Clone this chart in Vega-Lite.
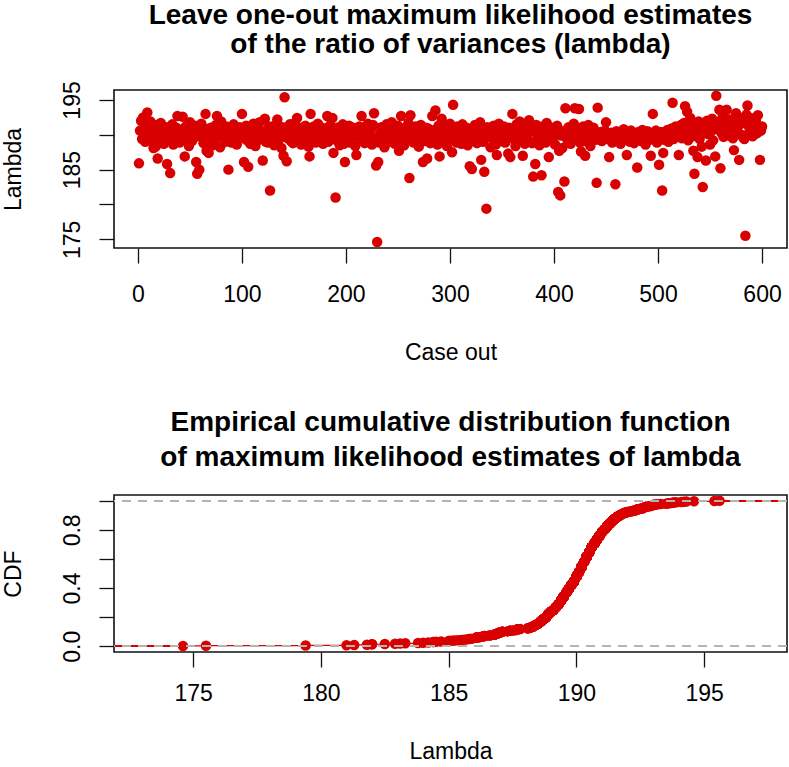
{
"$schema": "https://vega.github.io/schema/vega-lite/v6.json",
"padding": {"left": 1, "top": 0, "right": 3, "bottom": 0},
"spacing": 43,
"config": {
  "font": "Liberation Sans",
  "view": {"stroke": "#111", "strokeWidth": 1.6},
  "axis": {"grid": false, "domain": false, "tickColor": "#111", "tickSize": 15, "tickWidth": 1.3, "labelFontSize": 23, "titleFontSize": 23, "titleFontWeight": "normal", "labelColor": "#000", "titleColor": "#000", "labelFont": "Liberation Sans", "titleFont": "Liberation Sans", "labelPadding": 20},
  "title": {"fontSize": 28, "font": "Liberation Sans", "fontWeight": "bold", "color": "#000", "anchor": "middle"}
},
"datasets": {
"lam": [
{"i":1,"v":185.9},{"i":2,"v":190.6},{"i":3,"v":192.0},{"i":4,"v":189.4},{"i":5,"v":192.5},{"i":6,"v":190.2},{"i":7,"v":189.0},{"i":8,"v":191.3},{"i":9,"v":193.2},{"i":10,"v":190.8},
{"i":11,"v":189.6},{"i":12,"v":191.9},{"i":13,"v":190.4},{"i":14,"v":188.9},{"i":15,"v":188.1},{"i":16,"v":190.9},{"i":17,"v":188.3},{"i":18,"v":191.4},{"i":19,"v":186.6},{"i":20,"v":190.0},
{"i":21,"v":189.3},{"i":22,"v":191.7},{"i":23,"v":190.5},{"i":24,"v":189.8},{"i":25,"v":188.7},{"i":26,"v":190.3},{"i":27,"v":191.1},{"i":28,"v":185.8},{"i":29,"v":189.5},{"i":30,"v":190.7},
{"i":31,"v":184.5},{"i":32,"v":189.9},{"i":33,"v":191.5},{"i":34,"v":188.6},{"i":35,"v":190.2},{"i":36,"v":189.2},{"i":37,"v":191.0},{"i":38,"v":192.7},{"i":39,"v":190.1},{"i":40,"v":188.9},
{"i":41,"v":190.6},{"i":42,"v":189.7},{"i":43,"v":192.6},{"i":44,"v":190.4},{"i":45,"v":186.9},{"i":46,"v":191.2},{"i":47,"v":189.4},{"i":48,"v":190.0},{"i":49,"v":188.4},{"i":50,"v":191.8},
{"i":51,"v":190.3},{"i":52,"v":189.1},{"i":53,"v":190.8},{"i":54,"v":189.6},{"i":55,"v":191.3},{"i":56,"v":186.1},{"i":57,"v":184.4},{"i":58,"v":190.5},{"i":59,"v":185.0},{"i":60,"v":189.8},
{"i":61,"v":191.6},{"i":62,"v":190.2},{"i":63,"v":188.8},{"i":64,"v":190.9},{"i":65,"v":193.0},{"i":66,"v":187.7},{"i":67,"v":190.4},{"i":68,"v":187.4},{"i":69,"v":189.5},{"i":70,"v":191.0},
{"i":71,"v":190.1},{"i":72,"v":188.5},{"i":73,"v":190.7},{"i":74,"v":189.3},{"i":75,"v":191.4},{"i":76,"v":192.7},{"i":77,"v":189.9},{"i":78,"v":190.3},{"i":79,"v":188.2},{"i":80,"v":191.9},
{"i":81,"v":190.0},{"i":82,"v":189.6},{"i":83,"v":190.6},{"i":84,"v":189.0},{"i":85,"v":191.2},{"i":86,"v":190.4},{"i":87,"v":185.0},{"i":88,"v":189.7},{"i":89,"v":190.9},{"i":90,"v":188.9},
{"i":91,"v":190.2},{"i":92,"v":191.5},{"i":93,"v":189.4},{"i":94,"v":190.5},{"i":95,"v":188.6},{"i":96,"v":190.8},{"i":97,"v":189.8},{"i":98,"v":191.1},{"i":99,"v":190.3},{"i":100,"v":193.0},
{"i":101,"v":189.5},{"i":102,"v":186.1},{"i":103,"v":190.6},{"i":104,"v":191.3},{"i":105,"v":189.2},{"i":106,"v":185.4},{"i":107,"v":190.1},{"i":108,"v":188.7},{"i":109,"v":190.9},{"i":110,"v":189.9},
{"i":111,"v":191.6},{"i":112,"v":190.4},{"i":113,"v":188.4},{"i":114,"v":190.0},{"i":115,"v":191.0},{"i":116,"v":189.3},{"i":117,"v":191.8},{"i":118,"v":190.5},{"i":119,"v":189.7},{"i":120,"v":186.3},
{"i":121,"v":190.2},{"i":122,"v":192.3},{"i":123,"v":189.0},{"i":124,"v":190.7},{"i":125,"v":188.9},{"i":126,"v":191.2},{"i":127,"v":182.0},{"i":128,"v":190.3},{"i":129,"v":189.6},{"i":130,"v":190.8},
{"i":131,"v":188.5},{"i":132,"v":191.4},{"i":133,"v":189.8},{"i":134,"v":192.2},{"i":135,"v":190.1},{"i":136,"v":189.4},{"i":137,"v":190.6},{"i":138,"v":188.1},{"i":139,"v":191.1},{"i":140,"v":187.0},
{"i":141,"v":195.4},{"i":142,"v":190.0},{"i":143,"v":186.2},{"i":144,"v":189.5},{"i":145,"v":190.9},{"i":146,"v":191.5},{"i":147,"v":189.1},{"i":148,"v":190.4},{"i":149,"v":188.8},{"i":150,"v":190.2},
{"i":151,"v":191.7},{"i":152,"v":189.7},{"i":153,"v":192.4},{"i":154,"v":190.5},{"i":155,"v":189.2},{"i":156,"v":190.8},{"i":157,"v":188.6},{"i":158,"v":191.0},{"i":159,"v":189.9},{"i":160,"v":190.3},
{"i":161,"v":191.3},{"i":162,"v":189.4},{"i":163,"v":190.7},{"i":164,"v":188.3},{"i":165,"v":186.9},{"i":166,"v":193.0},{"i":167,"v":190.1},{"i":168,"v":189.6},{"i":169,"v":191.2},{"i":170,"v":190.4},
{"i":171,"v":188.9},{"i":172,"v":190.0},{"i":173,"v":191.6},{"i":174,"v":189.3},{"i":175,"v":190.6},{"i":176,"v":189.8},{"i":177,"v":191.0},{"i":178,"v":188.7},{"i":179,"v":190.2},{"i":180,"v":189.5},
{"i":181,"v":190.9},{"i":182,"v":192.7},{"i":183,"v":189.0},{"i":184,"v":190.5},{"i":185,"v":191.4},{"i":186,"v":189.7},{"i":187,"v":192.4},{"i":188,"v":187.4},{"i":189,"v":190.3},{"i":190,"v":181.0},
{"i":191,"v":189.2},{"i":192,"v":190.8},{"i":193,"v":191.1},{"i":194,"v":188.5},{"i":195,"v":190.0},{"i":196,"v":189.9},{"i":197,"v":191.5},{"i":198,"v":188.7},{"i":199,"v":186.1},{"i":200,"v":190.4},
{"i":201,"v":189.4},{"i":202,"v":190.7},{"i":203,"v":191.3},{"i":204,"v":188.9},{"i":205,"v":190.1},{"i":206,"v":189.6},{"i":207,"v":191.0},{"i":208,"v":190.4},{"i":209,"v":188.4},{"i":210,"v":187.1},
{"i":211,"v":190.6},{"i":212,"v":189.8},{"i":213,"v":191.2},{"i":214,"v":190.2},{"i":215,"v":192.7},{"i":216,"v":189.3},{"i":217,"v":190.9},{"i":218,"v":188.8},{"i":219,"v":190.5},{"i":220,"v":189.7},
{"i":221,"v":191.6},{"i":222,"v":190.0},{"i":223,"v":189.1},{"i":224,"v":190.8},{"i":225,"v":188.6},{"i":226,"v":191.4},{"i":227,"v":193.1},{"i":228,"v":189.5},{"i":229,"v":185.6},{"i":230,"v":174.6},
{"i":231,"v":186.1},{"i":232,"v":188.9},{"i":233,"v":190.3},{"i":234,"v":191.1},{"i":235,"v":189.9},{"i":236,"v":190.6},{"i":237,"v":188.2},{"i":238,"v":190.0},{"i":239,"v":191.5},{"i":240,"v":189.4},
{"i":241,"v":190.2},{"i":242,"v":189.0},{"i":243,"v":190.9},{"i":244,"v":191.8},{"i":245,"v":189.6},{"i":246,"v":190.4},{"i":247,"v":188.7},{"i":248,"v":190.7},{"i":249,"v":189.2},{"i":250,"v":191.3},
{"i":251,"v":187.7},{"i":252,"v":190.1},{"i":253,"v":192.7},{"i":254,"v":189.8},{"i":255,"v":190.5},{"i":256,"v":188.5},{"i":257,"v":191.0},{"i":258,"v":189.5},{"i":259,"v":190.3},{"i":260,"v":191.7},
{"i":261,"v":183.8},{"i":262,"v":192.8},{"i":263,"v":189.9},{"i":264,"v":190.8},{"i":265,"v":188.9},{"i":266,"v":190.2},{"i":267,"v":191.2},{"i":268,"v":189.3},{"i":269,"v":190.6},{"i":270,"v":188.3},
{"i":271,"v":190.0},{"i":272,"v":191.4},{"i":273,"v":189.7},{"i":274,"v":186.1},{"i":275,"v":190.4},{"i":276,"v":189.1},{"i":277,"v":191.0},{"i":278,"v":186.6},{"i":279,"v":190.9},{"i":280,"v":189.6},
{"i":281,"v":188.8},{"i":282,"v":190.3},{"i":283,"v":192.7},{"i":284,"v":189.4},{"i":285,"v":190.7},{"i":286,"v":193.5},{"i":287,"v":190.1},{"i":288,"v":188.6},{"i":289,"v":191.3},{"i":290,"v":186.9},
{"i":291,"v":189.8},{"i":292,"v":192.3},{"i":293,"v":190.5},{"i":294,"v":189.2},{"i":295,"v":191.1},{"i":296,"v":190.0},{"i":297,"v":188.4},{"i":298,"v":190.8},{"i":299,"v":189.5},{"i":300,"v":191.6},
{"i":301,"v":190.2},{"i":302,"v":187.5},{"i":303,"v":194.3},{"i":304,"v":189.7},{"i":305,"v":190.6},{"i":306,"v":188.9},{"i":307,"v":191.2},{"i":308,"v":190.4},{"i":309,"v":189.3},{"i":310,"v":190.9},
{"i":311,"v":188.7},{"i":312,"v":191.5},{"i":313,"v":190.1},{"i":314,"v":189.6},{"i":315,"v":190.3},{"i":316,"v":191.0},{"i":317,"v":188.5},{"i":318,"v":190.7},{"i":319,"v":185.5},{"i":320,"v":189.9},
{"i":321,"v":185.1},{"i":322,"v":190.5},{"i":323,"v":189.2},{"i":324,"v":191.4},{"i":325,"v":190.0},{"i":326,"v":188.8},{"i":327,"v":190.8},{"i":328,"v":189.4},{"i":329,"v":191.8},{"i":330,"v":186.4},
{"i":331,"v":190.2},{"i":332,"v":189.0},{"i":333,"v":184.7},{"i":334,"v":190.6},{"i":335,"v":179.4},{"i":336,"v":191.1},{"i":337,"v":189.7},{"i":338,"v":190.4},{"i":339,"v":188.2},{"i":340,"v":190.9},
{"i":341,"v":189.5},{"i":342,"v":191.3},{"i":343,"v":190.1},{"i":344,"v":188.6},{"i":345,"v":187.1},{"i":346,"v":190.3},{"i":347,"v":191.6},{"i":348,"v":189.8},{"i":349,"v":190.7},{"i":350,"v":189.1},
{"i":351,"v":190.0},{"i":352,"v":191.2},{"i":353,"v":188.9},{"i":354,"v":190.5},{"i":355,"v":189.6},{"i":356,"v":187.3},{"i":357,"v":191.0},{"i":358,"v":186.8},{"i":359,"v":190.2},{"i":360,"v":193.0},
{"i":361,"v":189.4},{"i":362,"v":190.8},{"i":363,"v":188.4},{"i":364,"v":191.5},{"i":365,"v":189.9},{"i":366,"v":190.4},{"i":367,"v":191.9},{"i":368,"v":189.2},{"i":369,"v":190.6},{"i":370,"v":187.0},
{"i":371,"v":190.1},{"i":372,"v":188.7},{"i":373,"v":191.1},{"i":374,"v":189.7},{"i":375,"v":190.3},{"i":376,"v":192.1},{"i":377,"v":189.0},{"i":378,"v":190.9},{"i":379,"v":188.8},{"i":380,"v":184.0},
{"i":381,"v":190.5},{"i":382,"v":185.8},{"i":383,"v":191.4},{"i":384,"v":189.5},{"i":385,"v":190.0},{"i":386,"v":188.5},{"i":387,"v":190.7},{"i":388,"v":184.2},{"i":389,"v":191.2},{"i":390,"v":189.8},
{"i":391,"v":190.2},{"i":392,"v":188.9},{"i":393,"v":191.7},{"i":394,"v":190.4},{"i":395,"v":186.8},{"i":396,"v":189.3},{"i":397,"v":190.8},{"i":398,"v":191.0},{"i":399,"v":189.6},{"i":400,"v":190.1},
{"i":401,"v":188.6},{"i":402,"v":190.6},{"i":403,"v":191.3},{"i":404,"v":181.8},{"i":405,"v":187.7},{"i":406,"v":181.3},{"i":407,"v":189.9},{"i":408,"v":188.1},{"i":409,"v":190.5},{"i":410,"v":183.3},
{"i":411,"v":193.8},{"i":412,"v":190.3},{"i":413,"v":189.2},{"i":414,"v":191.1},{"i":415,"v":190.0},{"i":416,"v":188.7},{"i":417,"v":190.8},{"i":418,"v":189.4},{"i":419,"v":191.6},{"i":420,"v":193.8},
{"i":421,"v":190.2},{"i":422,"v":189.7},{"i":423,"v":190.9},{"i":424,"v":193.7},{"i":425,"v":188.9},{"i":426,"v":187.6},{"i":427,"v":190.4},{"i":428,"v":191.2},{"i":429,"v":189.5},{"i":430,"v":187.0},
{"i":431,"v":190.7},{"i":432,"v":189.0},{"i":433,"v":191.4},{"i":434,"v":190.1},{"i":435,"v":188.4},{"i":436,"v":190.5},{"i":437,"v":189.8},{"i":438,"v":191.0},{"i":439,"v":190.3},{"i":440,"v":189.3},
{"i":441,"v":183.1},{"i":442,"v":193.9},{"i":443,"v":190.0},{"i":444,"v":189.6},{"i":445,"v":190.4},{"i":446,"v":189.1},{"i":447,"v":190.2},{"i":448,"v":189.8},{"i":449,"v":190.6},{"i":450,"v":191.8},
{"i":451,"v":189.4},{"i":452,"v":190.1},{"i":453,"v":186.8},{"i":454,"v":189.7},{"i":455,"v":190.3},{"i":456,"v":188.9},{"i":457,"v":190.0},{"i":458,"v":189.5},{"i":459,"v":182.9},{"i":460,"v":190.5},
{"i":461,"v":189.2},{"i":462,"v":190.2},{"i":463,"v":189.9},{"i":464,"v":188.7},{"i":465,"v":190.4},{"i":466,"v":189.6},{"i":467,"v":190.8},{"i":468,"v":189.3},{"i":469,"v":190.1},{"i":470,"v":187.1},
{"i":471,"v":189.8},{"i":472,"v":190.3},{"i":473,"v":189.0},{"i":474,"v":190.6},{"i":475,"v":189.5},{"i":476,"v":190.0},{"i":477,"v":188.8},{"i":478,"v":190.2},{"i":479,"v":189.7},{"i":480,"v":185.3},
{"i":481,"v":190.4},{"i":482,"v":189.4},{"i":483,"v":190.1},{"i":484,"v":189.1},{"i":485,"v":190.7},{"i":486,"v":189.6},{"i":487,"v":190.3},{"i":488,"v":188.6},{"i":489,"v":189.9},{"i":490,"v":190.5},
{"i":491,"v":189.2},{"i":492,"v":190.0},{"i":493,"v":187.0},{"i":494,"v":189.8},{"i":495,"v":193.0},{"i":496,"v":190.2},{"i":497,"v":189.5},{"i":498,"v":190.6},{"i":499,"v":188.9},{"i":500,"v":190.1},
{"i":501,"v":185.7},{"i":502,"v":189.7},{"i":503,"v":190.4},{"i":504,"v":182.0},{"i":505,"v":187.4},{"i":506,"v":189.3},{"i":507,"v":190.2},{"i":508,"v":189.8},{"i":509,"v":190.7},{"i":510,"v":189.0},
{"i":511,"v":190.5},{"i":512,"v":189.6},{"i":513,"v":190.9},{"i":514,"v":194.6},{"i":515,"v":189.4},{"i":516,"v":190.3},{"i":517,"v":191.2},{"i":518,"v":189.9},{"i":519,"v":190.6},{"i":520,"v":187.1},
{"i":521,"v":190.0},{"i":522,"v":191.4},{"i":523,"v":189.5},{"i":524,"v":190.8},{"i":525,"v":191.7},{"i":526,"v":194.1},{"i":527,"v":190.4},{"i":528,"v":193.3},{"i":529,"v":189.2},{"i":530,"v":191.0},
{"i":531,"v":192.4},{"i":532,"v":190.6},{"i":533,"v":189.8},{"i":534,"v":187.7},{"i":535,"v":184.4},{"i":536,"v":191.5},{"i":537,"v":190.2},{"i":538,"v":186.8},{"i":539,"v":191.9},{"i":540,"v":189.4},
{"i":541,"v":190.9},{"i":542,"v":188.3},{"i":543,"v":182.5},{"i":544,"v":191.3},{"i":545,"v":190.7},{"i":546,"v":186.3},{"i":547,"v":192.0},{"i":548,"v":190.1},{"i":549,"v":191.6},{"i":550,"v":188.6},
{"i":551,"v":190.5},{"i":552,"v":192.3},{"i":553,"v":189.2},{"i":554,"v":191.1},{"i":555,"v":186.9},{"i":556,"v":195.6},{"i":557,"v":190.8},{"i":558,"v":191.8},{"i":559,"v":193.6},{"i":560,"v":185.2},
{"i":561,"v":190.3},{"i":562,"v":192.5},{"i":563,"v":189.7},{"i":564,"v":191.4},{"i":565,"v":190.6},{"i":566,"v":193.6},{"i":567,"v":191.0},{"i":568,"v":189.9},{"i":569,"v":192.2},{"i":570,"v":190.4},
{"i":571,"v":191.7},{"i":572,"v":189.5},{"i":573,"v":187.8},{"i":574,"v":191.2},{"i":575,"v":193.1},{"i":576,"v":190.7},{"i":577,"v":192.6},{"i":578,"v":186.4},{"i":579,"v":191.5},{"i":580,"v":190.0},
{"i":581,"v":192.1},{"i":582,"v":189.6},{"i":583,"v":189.4},{"i":584,"v":175.5},{"i":585,"v":192.9},{"i":586,"v":194.2},{"i":587,"v":191.3},{"i":588,"v":190.5},{"i":589,"v":192.4},{"i":590,"v":191.0},
{"i":591,"v":189.8},{"i":592,"v":191.9},{"i":593,"v":190.9},{"i":594,"v":192.0},{"i":595,"v":190.2},{"i":596,"v":192.8},{"i":597,"v":191.1},{"i":598,"v":186.4},{"i":599,"v":190.6},{"i":600,"v":191.2}
]
},
"vconcat": [
  {
    "title": {"text": ["Leave one-out maximum likelihood estimates", "of the ratio of variances (lambda)"], "offset": 22, "lineHeight": 29},
    "width": 673,
    "height": 158,
    "data": {"name": "lam"},
    "mark": {"type": "circle", "size": 110, "opacity": 1, "color": "#D80000"},
    "encoding": {
      "x": {"field": "i", "type": "quantitative", "scale": {"domain": [-23, 624], "nice": false, "zero": false},
            "axis": {"title": "Case out", "values": [0, 100, 200, 300, 400, 500, 600], "titlePadding": 35}},
      "y": {"field": "v", "type": "quantitative", "scale": {"domain": [173.75, 196.43], "nice": false, "zero": false},
            "axis": {"title": "Lambda", "values": [175, 180, 185, 190, 195], "labelAngle": -90, "labelAlign": "center", "labelBaseline": "alphabetic",
                     "labelExpr": "datum.value % 10 == 5 ? datum.label : ''", "titlePadding": 36}}
    }
  },
  {
    "title": {"text": ["Empirical cumulative distribution function", "of maximum likelihood estimates of lambda"], "offset": 23, "lineHeight": 35},
    "width": 673,
    "height": 157,
    "data": {"name": "lam"},
    "transform": [{"window": [{"op": "cume_dist", "as": "F"}], "sort": [{"field": "v", "order": "ascending"}]}],
    "encoding": {
      "x": {"field": "v", "type": "quantitative", "scale": {"domain": [171.9, 198.24], "nice": false, "zero": false},
            "axis": {"title": "Lambda", "values": [175, 180, 185, 190, 195], "labelPadding": 15, "titlePadding": 35}},
      "y": {"field": "F", "type": "quantitative", "scale": {"domain": [-0.04, 1.04], "nice": false, "zero": false},
            "axis": {"title": "CDF", "values": [0, 0.2, 0.4, 0.6, 0.8, 1.0], "format": ".1f", "labelAngle": -90, "labelAlign": "center", "labelBaseline": "alphabetic",
                     "labelExpr": "(round(datum.value * 10) % 4 == 0) ? datum.label : ''", "titlePadding": 36}}
    },
    "layer": [
      {"mark": {"type": "line", "interpolate": "step-after", "color": "#D80000", "strokeWidth": 1.2}},
      {"mark": {"type": "rule", "color": "#D80000", "strokeWidth": 1.2},
       "encoding": {"x": {"datum": 171.9}, "x2": {"datum": 174.6}, "y": {"datum": 0}}},
      {"mark": {"type": "rule", "color": "#D80000", "strokeWidth": 1.2},
       "encoding": {"x": {"datum": 195.6}, "x2": {"datum": 198.24}, "y": {"datum": 1}}},
      {"mark": {"type": "circle", "size": 110, "opacity": 1, "color": "#D80000"}},
      {"mark": {"type": "rule", "color": "#B3B3B3", "strokeWidth": 1.3, "strokeDash": [9, 7]},
       "encoding": {"y": {"datum": 0}, "x": null}},
      {"mark": {"type": "rule", "color": "#B3B3B3", "strokeWidth": 1.3, "strokeDash": [9, 7]},
       "encoding": {"y": {"datum": 1}, "x": null}}
    ]
  }
]
}
